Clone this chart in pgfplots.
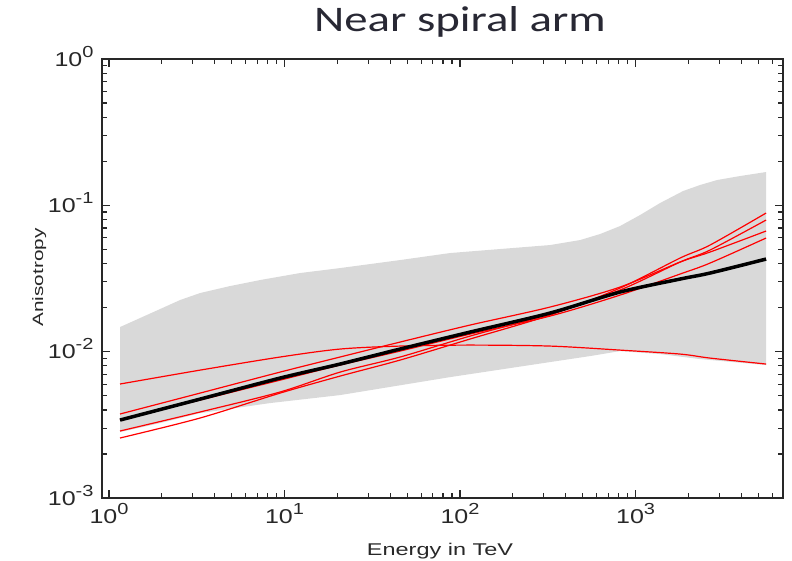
\documentclass[border=0pt]{standalone}
\usepackage{pgfplots}
\pgfplotsset{compat=1.18}
\usepackage{fontspec}
\setmainfont{Liberation Sans}
\newfontfamily\titlefont{Carlito}[FakeStretch=1.3]
\newfontfamily\tickfont{Liberation Sans}[FakeStretch=1.25]
\newfontfamily\labfont{Liberation Sans}[FakeStretch=1.38]
\definecolor{titlecol}{RGB}{40,40,52}
\definecolor{band}{RGB}{217,217,217}
\definecolor{axcol}{RGB}{40,40,40}
\newcommand{\tp}[1]{10\raisebox{9pt}{\fontsize{16}{16}\selectfont #1}}
\begin{document}
\begin{tikzpicture}
\path[use as bounding box] (0,0) rectangle (792pt,561pt);
\begin{axis}[
  at={(102pt,63pt)}, anchor=south west,
  scale only axis, width=681pt, height=439pt,
  xmode=log, ymode=log,
  xmin=0.912, xmax=6920, ymin=1e-3, ymax=1,
  xtick={1,10,100,1000},
  xticklabels={\tp{0},\tp{1},\tp{2},\tp{3}},
  ytick={0.001,0.01,0.1,1},
  yticklabels={\tp{-3},\tp{-2},\tp{-1},\tp{0}},
  minor xtick={2,3,4,5,6,7,8,9,20,30,40,50,60,70,80,90,200,300,400,500,600,700,800,900,2000,3000,4000,5000,6000},
  minor ytick={0.002,0.003,0.004,0.005,0.006,0.007,0.008,0.009,0.02,0.03,0.04,0.05,0.06,0.07,0.08,0.09,0.2,0.3,0.4,0.5,0.6,0.7,0.8,0.9},
  tick align=inside,
  major tick length=8pt, minor tick length=5pt,
  axis line style={line width=1.5pt, color=axcol},
  every tick/.style={axcol, line width=1.2pt},
  xticklabel style={font=\tickfont\fontsize{20}{20}\selectfont, text=axcol, yshift=-2pt},
  yticklabel style={font=\tickfont\fontsize{20}{20}\selectfont, text=axcol, anchor=base east, yshift=-7.2pt, xshift=-5pt},
  clip=true,
]
% grey band (upper edge left to right, then lower edge right to left)
\addplot[fill=band, draw=none] coordinates {
 (1.155,0.01473) (1.502,0.01697) (1.953,0.01955) (2.539,0.02253) (3.300,0.02515)
 (4.892,0.02808) (7.254,0.03087) (12.26,0.03446) (20.72,0.03727) (45.51,0.04227)
 (87.71,0.04721) (169.0,0.05028) (325.7,0.05353) (483.0,0.05791) (627.8,0.06366)
 (815.9,0.07220) (1061,0.08586) (1379,0.1037) (1865,0.1252) (2331,0.1377)
 (2913,0.1489) (3940,0.1586) (5541,0.1689)
 (5541,0.00810) (2331,0.00890) (1379,0.00963) (815.9,0.01009) (550.5,0.00933)
 (325.7,0.00849) (87.71,0.00670) (20.72,0.00505) (8.268,0.004453) (3.300,0.00380)
 (1.953,0.00325) (1.155,0.00282)
} -- cycle;
% red lines
\addplot[red, line width=1.2pt, smooth] coordinates {
 (1.155,0.00601) (3.300,0.00748) (9.427,0.00919) (20.72,0.01042) (45.51,0.01092)
 (114.0,0.01109) (325.7,0.01092) (815.9,0.01025) (1793,0.00963) (2657,0.00904) (5541,0.00823)};
\addplot[red, line width=1.2pt, smooth] coordinates {
 (1.155,0.00375) (3.300,0.00521) (9.427,0.00725) (20.72,0.00919) (45.51,0.01163)
 (114.0,0.01520) (325.7,0.02018) (815.9,0.02764) (1793,0.04096) (2657,0.04795) (5541,0.06675)};
\addplot[red, line width=1.2pt, smooth] coordinates {
 (1.155,0.00341) (3.300,0.00467) (9.427,0.00639) (20.72,0.00810) (45.51,0.01009)
 (114.0,0.01319) (325.7,0.01751) (815.9,0.02436) (1793,0.03392) (2657,0.04032) (5541,0.05977)};
\addplot[red, line width=1.2pt, smooth] coordinates {
 (1.155,0.00287) (3.300,0.00387) (9.427,0.00530) (20.72,0.00725) (45.51,0.00919)
 (114.0,0.01278) (325.7,0.01807) (815.9,0.02637) (1793,0.04096) (2657,0.04949) (5541,0.07934)};
\addplot[red, line width=1.2pt, smooth] coordinates {
 (1.155,0.00257) (3.300,0.00352) (9.427,0.00521) (20.72,0.00681) (45.51,0.00876)
 (114.0,0.01220) (325.7,0.01779) (815.9,0.02721) (1793,0.04363) (2657,0.05353) (5541,0.08858)};
% black line
\addplot[black, line width=3.5pt, smooth] coordinates {
 (1.155,0.00341) (3.300,0.00474) (9.427,0.00660) (20.72,0.00823) (45.51,0.01042)
 (114.0,0.01361) (325.7,0.01836) (815.9,0.02555) (1793,0.03135) (2657,0.03446) (5541,0.04294)};
\end{axis}
\node[anchor=base, font=\titlefont\fontsize{36}{36}\selectfont, text=titlecol] at (460pt,529pt) {Near spiral arm};
\node[anchor=base, font=\labfont\fontsize{17}{17}\selectfont, text=axcol] at (440pt,5pt) {Energy in TeV};
\node[anchor=base, rotate=90, font=\labfont\fontsize{15}{15}\selectfont, text=axcol] at (43pt,283.5pt) {Anisotropy};
\end{tikzpicture}
\end{document}
